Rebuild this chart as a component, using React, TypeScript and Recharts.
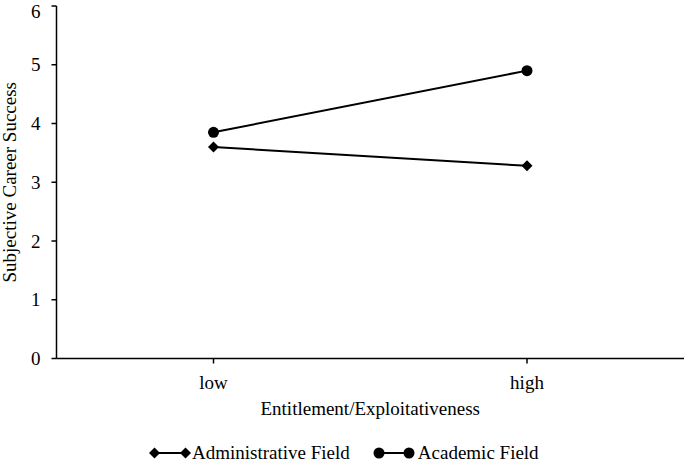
import React from 'react';
import { Legend, Line, LineChart, XAxis, YAxis } from 'recharts';

const categories = ['low', 'high'];
const administrative = [3.6, 3.28];
const academic = [3.85, 4.9];
const yTicks = [0, 1, 2, 3, 4, 5, 6];

const data = categories.map((c, i) => ({
  level: c,
  administrative: administrative[i],
  academic: academic[i],
}));

const font = "'Liberation Serif', 'Times New Roman', serif";
const fontSize = 19;
const axisStroke = '#000';

const Diamond = (p: any) => {
  const { cx, cy } = p;
  if (cx == null || cy == null) return null;
  const s = 5.5;
  return (
    <path key={`d-${p.index}`} d={`M${cx},${cy - s}L${cx + s},${cy}L${cx},${cy + s}L${cx - s},${cy}Z`} fill="#000" />
  );
};

const Dot = (p: any) => {
  const { cx, cy } = p;
  if (cx == null || cy == null) return null;
  return <circle key={`c-${p.index}`} cx={cx} cy={cy} r={5.5} fill="#000" />;
};

const LegendMarker: React.FC<{ shape: 'diamond' | 'circle' }> = ({ shape }) => (
  <svg width={42} height={14} style={{ display: 'block' }}>
    <line x1={5} y1={7} x2={37} y2={7} stroke="#000" strokeWidth={2} />
    {shape === 'diamond' ? (
      <>
        <path d="M5.5,1.5L11,7L5.5,12.5L0,7Z" fill="#000" />
        <path d="M36.5,1.5L42,7L36.5,12.5L31,7Z" fill="#000" />
      </>
    ) : (
      <>
        <circle cx={6} cy={7} r={5.5} fill="#000" />
        <circle cx={36} cy={7} r={5.5} fill="#000" />
      </>
    )}
  </svg>
);

const renderLegend = () => (
  <div
    style={{
      height: 30,
      display: 'flex',
      alignItems: 'center',
      paddingLeft: 149,
      paddingTop: 16,
      boxSizing: 'border-box',
      fontFamily: font,
      fontSize,
      color: '#000',
    }}
  >
    <div style={{ display: 'flex', alignItems: 'center', marginRight: 23, lineHeight: '14px' }}>
      <LegendMarker shape="diamond" />
      <span style={{ marginLeft: 1 }}>Administrative Field</span>
    </div>
    <div style={{ display: 'flex', alignItems: 'center', lineHeight: '14px' }}>
      <LegendMarker shape="circle" />
      <span style={{ marginLeft: 3 }}>Academic Field</span>
    </div>
  </div>
);

export default function App() {
  return (
    <div style={{ position: 'absolute', left: 0, top: 0, background: '#fff', fontFamily: font }}>
      <style>{`.recharts-text, .recharts-label { font-family: ${font} !important; font-size: ${fontSize}px; }`}</style>
      <LineChart
        width={685}
        height={460}
        data={data}
        margin={{ top: 6, right: 1, left: 0.5, bottom: 0 }}
      >
        <XAxis
          dataKey="level"
          height={71.5}
          padding={{ left: 157, right: 157 }}
          stroke={axisStroke}
          strokeWidth={1.5}
          tickSize={5}
          tickMargin={12}
          tick={{ fill: '#000', fontSize, fontFamily: 'Liberation Serif' }}
          label={{
            value: 'Entitlement/Exploitativeness',
            position: 'insideBottom',
            offset: 15,
            fill: '#000',
            fontSize,
          }}
        />
        <XAxis
          xAxisId="top"
          dataKey="level"
          orientation="top"
          height={0}
          tick={false}
          tickLine={false}
          stroke={axisStroke}
          strokeWidth={1.5}
        />
        <YAxis
          domain={[0, 6]}
          ticks={yTicks}
          width={56}
          stroke={axisStroke}
          strokeWidth={1.5}
          tickSize={5}
          tickMargin={11}
          tick={{ fill: '#000', fontSize, fontFamily: 'Liberation Serif' }}
          label={{
            value: 'Subjective Career Success',
            angle: -90,
            position: 'insideLeft',
            offset: 8.5,
            fill: '#000',
            fontSize,
            style: { textAnchor: 'middle' },
          }}
        />
        <YAxis
          yAxisId="right"
          orientation="right"
          domain={[0, 6]}
          width={0}
          tick={false}
          tickLine={false}
          stroke={axisStroke}
          strokeWidth={1.5}
        />
        <Legend verticalAlign="bottom" height={30} content={renderLegend} wrapperStyle={{ left: 0, width: 685 }} />
        <Line
          dataKey="administrative"
          name="Administrative Field"
          stroke="#000"
          strokeWidth={2}
          dot={Diamond}
          activeDot={false}
          isAnimationActive={false}
        />
        <Line
          dataKey="academic"
          name="Academic Field"
          stroke="#000"
          strokeWidth={2}
          dot={Dot}
          activeDot={false}
          isAnimationActive={false}
        />
      </LineChart>
    </div>
  );
}
